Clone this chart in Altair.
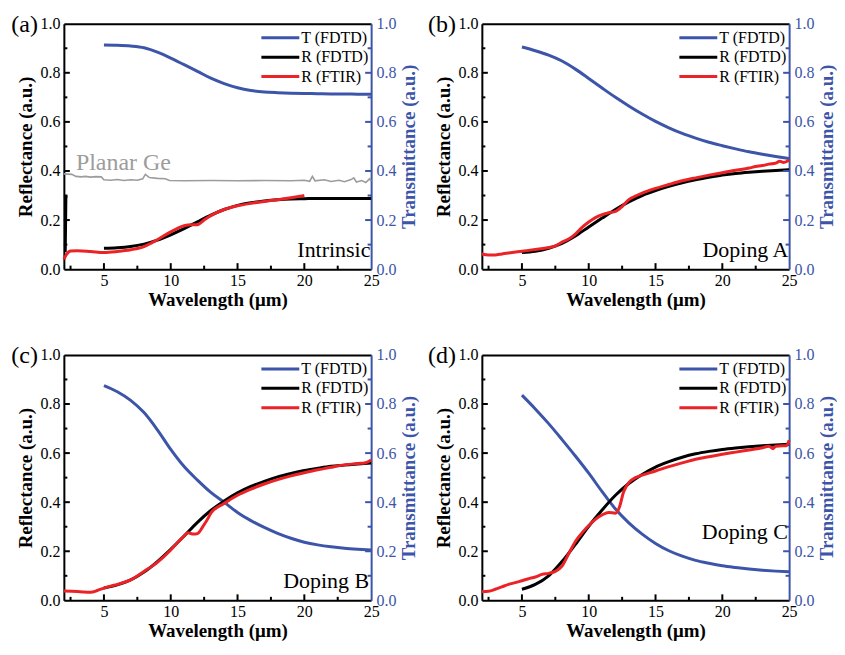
import altair as alt
import pandas as pd

SERIF = "Liberation Serif"
BLUE = "#3C55A9"
RED = "#EC2326"
BLACK = "#000000"
GREY = "#9C9C9C"

SERIES = ["T (FDTD)", "R (FDTD)", "R (FTIR)"]

# ---- wavelength grid of the simulated (FDTD) curves ----
WL_FDTD = [5, 6, 7, 8, 9, 10, 11, 12, 13, 14, 15, 16, 17, 18, 19, 20, 21, 22, 23, 24, 25]

# ---- panel (a): Intrinsic ----
A_T = [0.913, 0.912, 0.909, 0.902, 0.884, 0.860, 0.833, 0.806, 0.778, 0.756, 0.739,
       0.728, 0.722, 0.719, 0.717, 0.716, 0.715, 0.714, 0.714, 0.713, 0.713]
A_R = [0.085, 0.087, 0.092, 0.102, 0.118, 0.140, 0.165, 0.193, 0.220, 0.243, 0.260,
       0.271, 0.278, 0.283, 0.286, 0.287, 0.288, 0.288, 0.288, 0.288, 0.288]
A_FTIR_WL = [2.0, 2.2, 2.5, 3, 4, 5, 6, 7, 8, 8.5, 9, 10, 11, 11.5, 12, 12.5, 13, 14,
             15, 16, 17, 18, 19, 20]
A_FTIR = [0.040, 0.060, 0.074, 0.075, 0.072, 0.068, 0.072, 0.079, 0.092, 0.105, 0.120,
          0.152, 0.177, 0.181, 0.181, 0.200, 0.218, 0.243, 0.258, 0.268, 0.276, 0.283,
          0.291, 0.300]
A_SPIKE_WL = [2.12, 2.15, 2.17, 2.20]
A_SPIKE = [0.07, 0.20, 0.30, 0.29]
A_GE_WL = [2.0, 2.6, 2.9, 3.3, 3.6, 4.0, 4.4, 4.8, 5.0, 5.5, 6.0, 6.5, 7.0, 7.5, 7.9,
           8.1, 8.4, 9.0, 9.6, 9.9, 11, 13, 15, 17, 19, 20, 20.4, 20.6, 20.8, 21.5,
           22, 22.6, 23, 23.5, 23.7, 23.9, 24.3, 24.6, 24.9, 25]
A_GE = [0.388, 0.386, 0.378, 0.376, 0.378, 0.375, 0.377, 0.376, 0.364, 0.362, 0.365,
        0.361, 0.364, 0.362, 0.368, 0.386, 0.373, 0.370, 0.368, 0.361, 0.360, 0.361,
        0.360, 0.361, 0.360, 0.362, 0.358, 0.378, 0.360, 0.364, 0.357, 0.362, 0.356,
        0.365, 0.372, 0.355, 0.361, 0.353, 0.369, 0.358]

# ---- panel (b): Doping A ----
B_T = [0.905, 0.890, 0.872, 0.848, 0.815, 0.777, 0.738, 0.700, 0.665, 0.632, 0.602,
       0.576, 0.553, 0.534, 0.517, 0.503, 0.490, 0.478, 0.468, 0.459, 0.451]
B_R = [0.068, 0.073, 0.085, 0.105, 0.135, 0.172, 0.208, 0.243, 0.274, 0.300, 0.320,
       0.337, 0.352, 0.364, 0.374, 0.383, 0.390, 0.395, 0.399, 0.402, 0.405]
B_FTIR_WL = [2, 2.5, 3, 3.5, 4, 5, 6, 7, 7.5, 8, 8.5, 9, 9.5, 10, 10.5, 11, 11.5, 12,
             12.5, 13, 13.5, 14, 15, 16, 17, 18, 19, 20, 20.5, 21, 21.5, 22, 22.5, 23,
             23.5, 24, 24.3, 24.6, 25]
B_FTIR = [0.062, 0.058, 0.058, 0.062, 0.066, 0.073, 0.080, 0.088, 0.095, 0.110, 0.123,
          0.143, 0.170, 0.192, 0.210, 0.222, 0.230, 0.235, 0.255, 0.283, 0.298, 0.310,
          0.329, 0.345, 0.360, 0.372, 0.383, 0.393, 0.398, 0.403, 0.407, 0.412, 0.418,
          0.422, 0.428, 0.432, 0.440, 0.435, 0.445]

# ---- panel (c): Doping B ----
C_T = [0.875, 0.850, 0.815, 0.765, 0.695, 0.615, 0.545, 0.490, 0.440, 0.400, 0.358,
       0.325, 0.297, 0.273, 0.253, 0.237, 0.226, 0.218, 0.212, 0.208, 0.205]
C_R = [0.050, 0.063, 0.083, 0.115, 0.158, 0.208, 0.262, 0.318, 0.366, 0.405, 0.438,
       0.464, 0.485, 0.503, 0.517, 0.529, 0.538, 0.546, 0.551, 0.556, 0.560]
C_FTIR_WL = [2, 3, 3.5, 4, 4.5, 5, 5.5, 6, 7, 8, 9, 10, 10.5, 11, 11.3, 11.7, 12, 12.4,
             12.8, 13, 14, 15, 16, 17, 18, 19, 20, 21, 22, 22.5, 23, 23.5, 24, 24.5,
             24.8, 25]
C_FTIR = [0.038, 0.036, 0.034, 0.033, 0.040, 0.050, 0.058, 0.065, 0.083, 0.118, 0.155,
          0.205, 0.235, 0.262, 0.275, 0.270, 0.272, 0.300, 0.335, 0.355, 0.395, 0.428,
          0.453, 0.474, 0.492, 0.507, 0.520, 0.532, 0.542, 0.548, 0.552, 0.555, 0.558,
          0.560, 0.565, 0.572]

# ---- panel (d): Doping C ----
D_T = [0.836, 0.780, 0.720, 0.655, 0.588, 0.518, 0.443, 0.372, 0.316, 0.270, 0.232,
       0.202, 0.180, 0.163, 0.151, 0.141, 0.134, 0.128, 0.123, 0.119, 0.116]
D_R = [0.045, 0.065, 0.100, 0.158, 0.228, 0.302, 0.368, 0.428, 0.476, 0.513, 0.543,
       0.565, 0.583, 0.597, 0.607, 0.615, 0.621, 0.626, 0.630, 0.633, 0.636]
D_FTIR_WL = [2, 2.5, 3, 3.5, 4, 4.5, 5, 5.5, 6, 6.5, 7, 7.5, 8, 8.5, 9, 9.5, 10, 10.5,
             11, 11.5, 12, 12.3, 12.6, 13, 13.5, 14, 15, 16, 17, 18, 19, 20, 21, 22, 23,
             23.5, 23.8, 24, 24.5, 24.8, 25]
D_FTIR = [0.035, 0.037, 0.045, 0.055, 0.065, 0.072, 0.080, 0.088, 0.095, 0.106, 0.110,
          0.118, 0.140, 0.190, 0.240, 0.275, 0.305, 0.330, 0.348, 0.358, 0.355, 0.380,
          0.440, 0.480, 0.500, 0.510, 0.527, 0.545, 0.560, 0.575, 0.585, 0.595, 0.604,
          0.613, 0.622, 0.628, 0.618, 0.628, 0.630, 0.630, 0.652]

# ---- ticks / labels ----
X_LABELS = [5, 10, 15, 20, 25]
X_MAJOR = [5, 10, 15, 20]
X_MINOR = [2.5, 7.5, 12.5, 17.5, 22.5]
Y_LABELS = [0.0, 0.2, 0.4, 0.6, 0.8, 1.0]
Y_MAJOR = [0.2, 0.4, 0.6, 0.8]
Y_MINOR = [0.1, 0.3, 0.5, 0.7, 0.9]

W, H = 308, 246


def xs():
    return alt.Scale(domain=[2, 25], nice=False, zero=False)


def ys():
    return alt.Scale(domain=[0, 1], nice=False, zero=False)


COLOR = alt.Color("series:N", scale=alt.Scale(domain=SERIES, range=[BLUE, BLACK, RED]),
                  legend=None)


def make_panel(tag, T, R, fwl, fv, ann, ann_x, ann_y, ge=None, spike=None):
    rows = ([{"wl": w, "val": v, "series": SERIES[0]} for w, v in zip(WL_FDTD, T)]
            + [{"wl": w, "val": v, "series": SERIES[1]} for w, v in zip(WL_FDTD, R)]
            + [{"wl": w, "val": v, "series": SERIES[2]} for w, v in zip(fwl, fv)])
    df = pd.DataFrame(rows)

    x_axis = alt.Axis(orient="bottom", values=X_LABELS, format="d", title="Wavelength (μm)",
                      labelFont=SERIF, labelFontSize=16, labelColor=BLACK, labelFlush=False,
                      titleFont=SERIF, titleFontSize=19, titleFontWeight="bold",
                      titleColor=BLACK, ticks=False, labelPadding=3, titlePadding=2,
                      domainColor=BLACK, domainWidth=2, grid=False)
    left_axis = alt.Axis(orient="left", values=Y_LABELS, format=".1f",
                         title="Reflectance (a.u.)", labelFont=SERIF, labelFontSize=16,
                         labelColor=BLACK, titleFont=SERIF, titleFontSize=19,
                         titleFontWeight="bold", titleColor=BLACK, ticks=False,
                         labelPadding=4, titlePadding=4, domainColor=BLACK,
                         domainWidth=2, grid=False)
    right_axis = alt.Axis(orient="right", values=Y_LABELS, format=".1f",
                          title="Transmittance (a.u.)", labelFont=SERIF, labelFontSize=16,
                          labelColor=BLUE, titleFont=SERIF, titleFontSize=19,
                          titleFontWeight="bold", titleColor=BLUE, titleAngle=270,
                          titleBaseline="top", ticks=False, labelPadding=5, titlePadding=3,
                          domainColor=BLUE, domainWidth=2, grid=False)
    top_axis = alt.Axis(orient="top", labels=False, ticks=False, title=None,
                        domainColor=BLACK, domainWidth=2, grid=False)

    layers = []
    if ge is not None:
        layers.append(
            alt.Chart(pd.DataFrame({"wl": ge[0], "val": ge[1]}))
            .mark_line(color=GREY, strokeWidth=1.6)
            .encode(x=alt.X("wl:Q", scale=xs(), axis=None),
                    y=alt.Y("val:Q", scale=ys(), axis=None)))
        layers.append(
            alt.Chart(pd.DataFrame({"x": [2.9], "y": [0.405], "t": ["Planar Ge"]}))
            .mark_text(align="left", baseline="alphabetic", font=SERIF, fontSize=24,
                       color=GREY)
            .encode(x=alt.X("x:Q", scale=xs(), axis=None),
                    y=alt.Y("y:Q", scale=ys(), axis=None), text="t:N"))
    if spike is not None:
        layers.append(
            alt.Chart(pd.DataFrame({"wl": spike[0], "val": spike[1]}))
            .mark_line(color=BLACK, strokeWidth=2.5)
            .encode(x=alt.X("wl:Q", scale=xs(), axis=None),
                    y=alt.Y("val:Q", scale=ys(), axis=None)))

    lines = (alt.Chart(df).mark_line(interpolate="monotone")
             .encode(x=alt.X("wl:Q", scale=xs(), axis=x_axis),
                     y=alt.Y("val:Q", scale=ys(), axis=left_axis),
                     color=COLOR,
                     strokeWidth=alt.StrokeWidth("series:N",
                                                 scale=alt.Scale(domain=SERIES,
                                                                 range=[3, 3, 2.5]),
                                                 legend=None),
                     detail="series:N"))
    layers.append(lines)

    # inward ticks
    layers.append(alt.Chart(pd.DataFrame({"v": X_MAJOR})).mark_rule(color=BLACK, strokeWidth=2)
                  .encode(x=alt.X("v:Q", scale=xs(), axis=top_axis),
                          y=alt.value(H), y2=alt.value(H - 6)))
    layers.append(alt.Chart(pd.DataFrame({"v": X_MINOR})).mark_rule(color=BLACK, strokeWidth=2)
                  .encode(x=alt.X("v:Q", scale=xs(), axis=None),
                          y=alt.value(H), y2=alt.value(H - 3.5)))
    layers.append(alt.Chart(pd.DataFrame({"v": Y_MAJOR})).mark_rule(color=BLACK, strokeWidth=2)
                  .encode(y=alt.Y("v:Q", scale=ys(), axis=None),
                          x=alt.value(0), x2=alt.value(6)))
    layers.append(alt.Chart(pd.DataFrame({"v": Y_MINOR})).mark_rule(color=BLACK, strokeWidth=2)
                  .encode(y=alt.Y("v:Q", scale=ys(), axis=None),
                          x=alt.value(0), x2=alt.value(3.5)))
    layers.append(alt.Chart(pd.DataFrame({"v": Y_MAJOR})).mark_rule(color=BLUE, strokeWidth=2)
                  .encode(y=alt.Y("v:Q", scale=ys(), axis=right_axis),
                          x=alt.value(W), x2=alt.value(W - 6)))
    layers.append(alt.Chart(pd.DataFrame({"v": Y_MINOR})).mark_rule(color=BLUE, strokeWidth=2)
                  .encode(y=alt.Y("v:Q", scale=ys(), axis=None),
                          x=alt.value(W), x2=alt.value(W - 3.5)))

    # legend (drawn inside the plot)
    leg_y = alt.Y("series:N", scale=alt.Scale(type="point", domain=SERIES, range=[14, 53],
                                              padding=0), axis=None)
    leg_df = pd.DataFrame({"series": SERIES})
    layers.append(alt.Chart(leg_df).mark_rule(strokeWidth=3)
                  .encode(x=alt.value(W - 110), x2=alt.value(W - 72), y=leg_y, color=COLOR))
    layers.append(alt.Chart(leg_df).mark_text(align="left", baseline="middle", font=SERIF,
                                              fontSize=16, color=BLACK)
                  .encode(x=alt.value(W - 70), y=leg_y, text="series:N"))

    # annotation and panel tag
    layers.append(alt.Chart(pd.DataFrame({"x": [ann_x], "y": [ann_y], "t": [ann]}))
                  .mark_text(align="right", baseline="alphabetic", font=SERIF, fontSize=22,
                             color=BLACK)
                  .encode(x=alt.X("x:Q", scale=xs(), axis=None),
                          y=alt.Y("y:Q", scale=ys(), axis=None), text="t:N"))
    layers.append(alt.Chart(pd.DataFrame({"t": [tag]}))
                  .mark_text(align="right", baseline="top", font=SERIF, fontSize=24,
                             color=BLACK)
                  .encode(x=alt.value(-26), y=alt.value(-11), text="t:N"))

    return (alt.layer(*layers)
            .resolve_scale(y="independent")
            .properties(width=W, height=H))


pa = make_panel("(a)", A_T, A_R, A_FTIR_WL, A_FTIR, "Intrinsic", 24.95, 0.05,
                ge=(A_GE_WL, A_GE), spike=(A_SPIKE_WL, A_SPIKE))
pb = make_panel("(b)", B_T, B_R, B_FTIR_WL, B_FTIR, "Doping A", 24.95, 0.05)
pc = make_panel("(c)", C_T, C_R, C_FTIR_WL, C_FTIR, "Doping B", 24.85, 0.052)
pd_ = make_panel("(d)", D_T, D_R, D_FTIR_WL, D_FTIR, "Doping C", 24.9, 0.25)

chart = (alt.vconcat(alt.hconcat(pa, pb, spacing=8),
                     alt.hconcat(pc, pd_, spacing=8),
                     spacing=33)
         .properties(padding={"left": 2, "top": 3, "right": 0, "bottom": 0})
         .configure_view(stroke=None)
         .configure(font=SERIF))

chart.save("out.html", embed_options={"renderer": "svg", "actions": False})
